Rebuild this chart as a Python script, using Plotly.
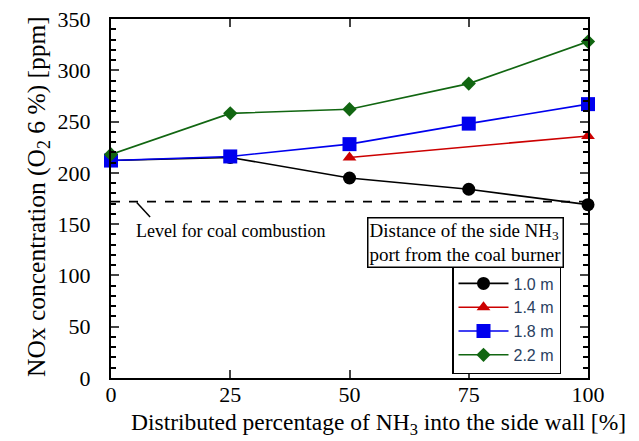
import plotly.graph_objects as go

x_pct = [0, 25, 50, 75, 100]
nox_10 = [212, 215, 195, 184, 169]
x_14 = [50, 100]
nox_14 = [215, 236]
nox_18 = [212, 216, 228, 248, 267]
nox_22 = [218, 258, 262, 287, 328]
coal_level = 172
y_ticks = [0, 50, 100, 150, 200, 250, 300, 350]
x_ticks = [0, 25, 50, 75, 100]

series = [
    ("1.0 m", x_pct, nox_10, "black", "circle", 13),
    ("1.4 m", x_14, nox_14, "#cc0000", "triangle-up", 12),
    ("1.8 m", x_pct, nox_18, "#0000ee", "square", 14),
    ("2.2 m", x_pct, nox_22, "#116611", "diamond", 11),
]

fig = go.Figure()
for name, xs, ys, col, sym, sz in series:
    fig.add_trace(go.Scatter(
        x=xs, y=ys, name=name, mode="lines+markers",
        line=dict(color=col, width=1.6),
        marker=dict(color=col, symbol=sym, size=sz),
        cliponaxis=False,
    ))

# page offset (body margin 8px) compensated: plot area spans page x 111-588, y 19-378
serif = "Liberation Serif"
fig.update_layout(
    width=631, height=433,
    margin=dict(l=103, r=51, t=11, b=63, autoexpand=False),
    paper_bgcolor="white", plot_bgcolor="white",
    showlegend=True,
    legend=dict(
        x=(452 - 111) / 477, y=(378 - 265) / 359, xanchor="left", yanchor="top",
        bordercolor="black", borderwidth=1.5, bgcolor="white",
        font=dict(family="Liberation Sans", size=16),
        itemwidth=50, tracegroupgap=0,
    ),
    xaxis=dict(
        range=[0, 100], tickvals=x_ticks, ticks="inside", ticklen=8,
        tickwidth=2, mirror="ticks", showline=True, linecolor="black",
        linewidth=2, showgrid=False, zeroline=False, automargin=False,
        tickfont=dict(family=serif, size=22, color="black"),
        ticklabelstandoff=-4, ticklabeloverflow="allow",
    ),
    yaxis=dict(
        range=[0, 350], tickvals=y_ticks, ticks="inside", ticklen=8,
        tickwidth=2, mirror="ticks", showline=True, linecolor="black",
        linewidth=2, showgrid=False, zeroline=False, automargin=False,
        tickfont=dict(family=serif, size=22, color="black"),
        ticklabelstandoff=14, ticklabeloverflow="allow",
        minor=dict(dtick=10, ticks="inside", ticklen=5, tickwidth=2,
                   tickcolor="black", showgrid=False),
    ),
)

# dashed reference line
fig.add_shape(type="line", xref="x", yref="y", x0=0, x1=100,
              y0=coal_level, y1=coal_level,
              line=dict(color="black", width=1.8, dash="dash"))
fig.add_shape(type="line", xref="x", yref="y", x0=5.4, x1=8.2,
              y0=coal_level - 1, y1=157,
              line=dict(color="black", width=1.5))
fig.add_annotation(x=4.8, y=143, xref="x", yref="y", xanchor="left", yanchor="middle",
                   text="Level for coal combustion", showarrow=False,
                   font=dict(family=serif, size=18, color="black"))

# legend title box
fig.add_annotation(x=(465 - 111) / 477, y=(378 - 242.5) / 359, xref="paper", yref="paper",
                   xanchor="center", yanchor="middle",
                   text="Distance of the side NH<sub>3</sub><br>port from the coal burner",
                   showarrow=False, align="left",
                   bordercolor="black", borderwidth=1.5, bgcolor="white",
                   borderpad=1,
                   font=dict(family=serif, size=19, color="black"))

# axis titles
fig.add_annotation(x=(378 - 111) / 477, y=-(424 - 378) / 359, xref="paper", yref="paper",
                   xanchor="center", yanchor="middle",
                   text="Distributed percentage of NH<sub>3</sub> into the side wall [%]",
                   showarrow=False,
                   font=dict(family=serif, size=23.5, color="black"))
fig.add_annotation(x=-(111 - 38) / 477, y=(378 - 197) / 359, xref="paper", yref="paper",
                   textangle=-90, xanchor="center", yanchor="middle",
                   text="NOx concentration (O<sub>2</sub> 6 %) [ppm]",
                   showarrow=False,
                   font=dict(family=serif, size=25.5, color="black"))

# right edge rule
fig.add_shape(type="line", xref="paper", yref="paper", layer="above",
              x0=(634 - 111) / 477, x1=(634 - 111) / 477,
              y0=-(433 - 11 - 359) / 359, y1=1 + 11 / 359,
              line=dict(color="#333333", width=2))

fig.write_html("out.html")
